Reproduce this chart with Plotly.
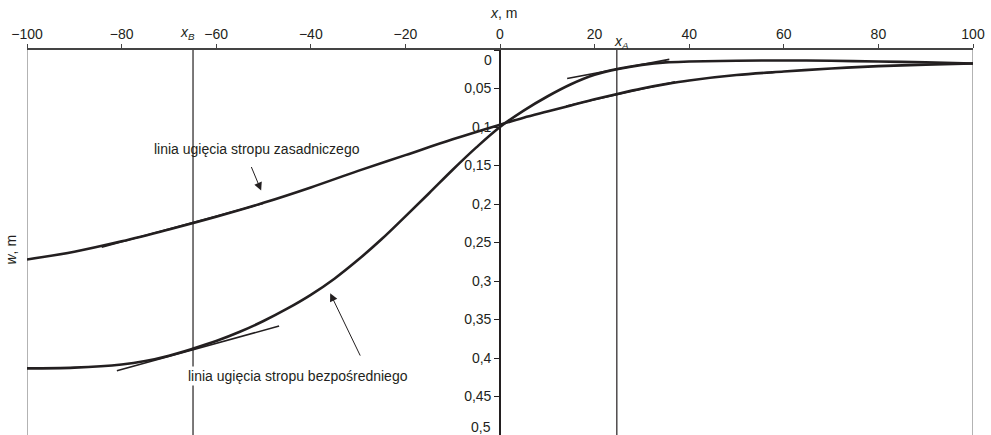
import plotly.graph_objects as go

# ---- data ----
x_zas = [-100, -90, -80, -70, -60, -50, -40, -30, -20, -10, 0, 5, 10, 15, 20, 25, 30, 35, 40, 50, 60, 70, 80, 90, 100]
w_zasadniczy = [0.272, 0.262, 0.2485, 0.233, 0.2165, 0.1985, 0.1785, 0.157, 0.1365, 0.116, 0.097, 0.088, 0.080,
                0.072, 0.064, 0.0567, 0.050, 0.0443, 0.0395, 0.0325, 0.028, 0.024, 0.021, 0.019, 0.0175]

x_bez = [-100, -90, -80, -75, -70, -65, -60, -55, -50, -45, -40, -35, -30, -25, -20, -15, -10, -5, 0,
         5, 10, 15, 20, 25, 30, 35, 40, 50, 60, 70, 80, 90, 100]
w_bezposredni = [0.4135, 0.4125, 0.4085, 0.404, 0.397, 0.388, 0.378, 0.366, 0.352, 0.336, 0.318, 0.297, 0.2725,
                 0.2455, 0.216, 0.186, 0.1555, 0.1265, 0.100,
                 0.0787, 0.0604, 0.0445, 0.0322, 0.0245, 0.0193, 0.0161, 0.0150, 0.0140, 0.0136, 0.014, 0.015,
                 0.016, 0.0175]

x_A = 24.7
x_B = -64.9

# tangent segments (x, w endpoints)
tan_zas_B_x = [-84.2, -50.1]
tan_zas_B_w = [0.2562, 0.1993]
tan_bez_B_x = [-81.0, -46.7]
tan_bez_B_w = [0.4165, 0.3585]
tan_bez_A_x = [14.2, 35.8]
tan_bez_A_w = [0.0371, 0.0122]
tan_zas_A_x = [14.0, 37.0]
tan_zas_A_w = [0.0727, 0.0413]

x_ticks = [-100, -80, -60, -40, -20, 0, 20, 40, 60, 80, 100]
y_ticks = [0, 0.05, 0.1, 0.15, 0.2, 0.25, 0.3, 0.35, 0.4, 0.45, 0.5]
y_ticktext = ["", "0,05", "0,1", "0,15", "0,2", "0,25", "0,3", "0,35", "0,4", "0,45", ""]

label_zas = "linia ugięcia stropu zasadniczego"
label_bez = "linia ugięcia stropu bezpośredniego"

INK = "#231f20"
FONT = "Liberation Sans, Arial, sans-serif"
FS = 14

fig = go.Figure()

for tx, tw in [(tan_zas_B_x, tan_zas_B_w), (tan_bez_B_x, tan_bez_B_w),
               (tan_bez_A_x, tan_bez_A_w), (tan_zas_A_x, tan_zas_A_w)]:
    fig.add_trace(go.Scatter(x=tx, y=tw, mode="lines", line=dict(color=INK, width=1.6),
                             showlegend=False, hoverinfo="skip"))

fig.add_trace(go.Scatter(x=x_zas, y=w_zasadniczy, mode="lines",
                         line=dict(color=INK, width=2.6, shape="spline", smoothing=1.0),
                         showlegend=False, name=label_zas))
fig.add_trace(go.Scatter(x=x_bez, y=w_bezposredni, mode="lines",
                         line=dict(color=INK, width=2.6, shape="spline", smoothing=1.0),
                         showlegend=False, name=label_bez))

# border lines and x_A, x_B verticals
for xv, col, wd in [(-100, "#b3b3b3", 2), (100, "#b3b3b3", 2), (x_B, INK, 1.2), (x_A, INK, 1.2)]:
    fig.add_shape(type="line", xref="x", yref="y", x0=xv, x1=xv, y0=0, y1=0.5,
                  line=dict(color=col, width=wd), layer="below")

fig.update_layout(
    width=991, height=435,
    margin=dict(l=27, r=18, t=50, b=0),
    paper_bgcolor="white", plot_bgcolor="white",
    font=dict(family=FONT, size=FS, color=INK),
    xaxis=dict(range=[-100, 100], side="top", showgrid=False, zeroline=False,
               showline=True, linecolor="#444444", linewidth=1.5,
               ticks="outside", ticklen=4, tickcolor="#444444",
               tickvals=x_ticks, tickfont=dict(size=FS, color=INK)),
    yaxis=dict(range=[0.5, 0], anchor="free", position=0.5, showgrid=False, zeroline=False,
               showline=True, linecolor=INK, linewidth=1.6,
               ticks="outside", ticklen=5, tickcolor=INK,
               tickvals=y_ticks, ticktext=y_ticktext, tickfont=dict(size=FS, color=INK)),
)

annotations = [
    dict(x=0.5, y=1, xref="paper", yref="paper", yanchor="bottom", yshift=27, xshift=3,
         text="<i>x</i>, m", showarrow=False, font=dict(size=FS)),
    dict(x=-0.5, y=0.0135, xref="x", yref="y", xanchor="right", text="0", showarrow=False,
         font=dict(size=FS), xshift=-4),
    dict(x=-0.5, y=0.490, xref="x", yref="y", xanchor="right", text="0,5", showarrow=False,
         font=dict(size=FS), xshift=-5),
    dict(x=-0.028, y=1 - (250 - 50) / 385.0, xref="paper", yref="paper", text="<i>w</i>, m",
         showarrow=False, textangle=-90, font=dict(size=FS)),
    dict(x=-66.0, y=1, xref="x", yref="paper", yanchor="bottom", yshift=6,
         text="<i>x<sub>B</sub></i>", showarrow=False, font=dict(size=FS)),
    dict(x=25.6, y=1, xref="x", yref="paper", yanchor="bottom", yshift=-3,
         text="<i>x<sub>A</sub></i>", showarrow=False, font=dict(size=FS)),
    dict(x=-51.4, y=0.1285, xref="x", yref="y", text=label_zas, showarrow=False,
         font=dict(size=FS)),
    dict(x=-42.7, y=0.4238, xref="x", yref="y", text=label_bez, showarrow=False,
         font=dict(size=FS), bgcolor="white"),
    dict(x=-50.5, y=0.1825, xref="x", yref="y", ax=-52.7, ay=0.1500, axref="x", ayref="y",
         showarrow=True, arrowhead=2, arrowsize=1.6, arrowwidth=1, arrowcolor=INK, text=""),
    dict(x=-35.9, y=0.316, xref="x", yref="y", ax=-29.4, ay=0.3988, axref="x", ayref="y",
         showarrow=True, arrowhead=2, arrowsize=1.6, arrowwidth=1, arrowcolor=INK, text=""),
]
fig.update_layout(annotations=annotations)

fig.write_html("out.html", config={"displayModeBar": False},
               post_script="document.body.style.margin='0';")
